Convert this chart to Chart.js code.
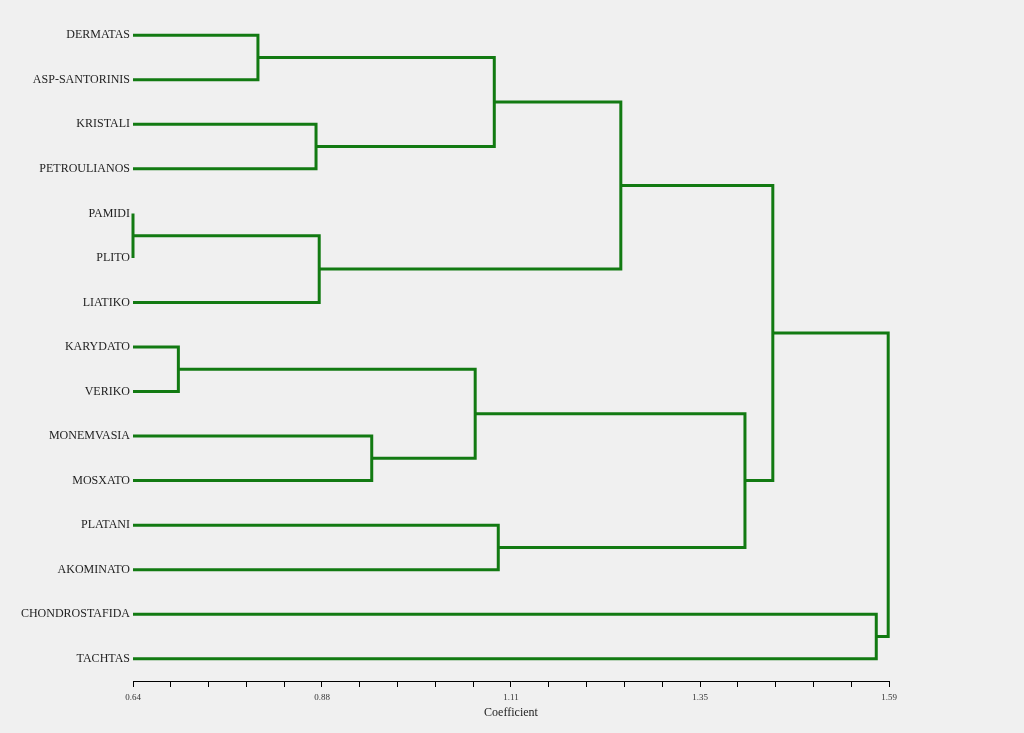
<!DOCTYPE html>
<html>
<head>
<meta charset="utf-8">
<script src="https://cdn.jsdelivr.net/npm/chart.js@4"></script>
<style>
  html, body { margin: 0; padding: 0; background: #f0f0f0; }
  #wrap { width: 1024px; height: 733px; }
</style>
</head>
<body>
<div id="wrap"><canvas id="chart" width="1024" height="733"></canvas></div>
<script>
// leaves, top to bottom
const leaves = ['DERMATAS', 'ASP-SANTORINIS', 'KRISTALI', 'PETROULIANOS', 'PAMIDI', 'PLITO', 'LIATIKO',
  'KARYDATO', 'VERIKO', 'MONEMVASIA', 'MOSXATO', 'PLATANI', 'AKOMINATO', 'CHONDROSTAFIDA', 'TACHTAS'];

// merges (ids < 15 are leaves, 15+ are earlier merges)
const mergeLeft   = [4, 7, 0, 2, 15, 9, 16, 17, 11, 22, 21, 24, 13, 26];
const mergeRight  = [5, 8, 1, 3, 6, 10, 20, 18, 12, 19, 23, 25, 14, 27];
const mergeHeight = [0.640, 0.697, 0.797, 0.870, 0.874, 0.940, 1.070, 1.094, 1.099, 1.253, 1.409, 1.444, 1.574, 1.589];

// axis
const xMin = 0.64, xMax = 1.59;
const xMajorTicks  = [0.64, 0.8775, 1.115, 1.3525, 1.59];
const xMajorLabels = ['0.64', '0.88', '1.11', '1.35', '1.59'];
const minorPerMajor = 5;

const green = '#127a12';
const n = leaves.length;

// node positions
let nodeX = [], nodeY = [];
for (let i = 0; i < n; i++) { nodeX[i] = xMin; nodeY[i] = i; }
let datasets = [];
mergeHeight.forEach((h, k) => {
  let a = mergeLeft[k], b = mergeRight[k];
  nodeX[n + k] = h;
  nodeY[n + k] = (nodeY[a] + nodeY[b]) / 2;
  datasets.push({
    data: [
      {x: nodeX[a], y: nodeY[a]},
      {x: h, y: nodeY[a]},
      {x: h, y: nodeY[b]},
      {x: nodeX[b], y: nodeY[b]}
    ],
    showLine: true,
    borderColor: green,
    borderWidth: 3,
    pointRadius: 0,
    borderJoinStyle: 'miter',
    fill: false,
    clip: false
  });
});

// all tick values (majors plus minors between them)
let xTicks = [];
for (let m = 0; m < xMajorTicks.length - 1; m++) {
  let step = (xMajorTicks[m + 1] - xMajorTicks[m]) / minorPerMajor;
  for (let j = 0; j < minorPerMajor; j++) xTicks.push(xMajorTicks[m] + j * step);
}
xTicks.push(xMajorTicks[xMajorTicks.length - 1]);

new Chart(document.getElementById('chart'), {
  type: 'scatter',
  data: { datasets },
  options: {
    responsive: false,
    animation: false,
    layout: { padding: { top: 13, right: 135, left: 0, bottom: 0 } },
    plugins: { legend: { display: false }, tooltip: { enabled: false } },
    scales: {
      x: {
        type: 'linear',
        min: xMin, max: xMax,
        afterBuildTicks: s => { s.ticks = xTicks.map(v => ({ value: v })); },
        afterFit: s => { s.height = 52; },
        grid: { drawOnChartArea: false, drawTicks: true, tickLength: 6, tickColor: '#000' },
        border: { display: true, color: '#000', width: 1 },
        ticks: {
          autoSkip: false, maxRotation: 0, padding: 5,
          color: '#333',
          font: { family: 'Liberation Serif', size: 9 },
          callback: (v, i) => {
            let m = i / minorPerMajor;
            return Number.isInteger(m) ? xMajorLabels[m] : '';
          }
        },
        title: {
          display: true, text: 'Coefficient', color: '#222',
          font: { family: 'Liberation Serif', size: 12 },
          padding: { top: 0, bottom: 13 }
        }
      },
      y: {
        type: 'linear',
        reverse: true,
        min: -0.5, max: n - 0.5,
        afterBuildTicks: s => { s.ticks = leaves.map((l, i) => ({ value: i })); },
        afterFit: s => { s.width = 133; },
        grid: { display: false, drawTicks: false },
        border: { display: false },
        ticks: {
          autoSkip: false, padding: 3,
          color: '#222',
          font: { family: 'Liberation Serif', size: 12 },
          callback: v => leaves[v]
        }
      }
    }
  }
});
</script>
</body>
</html>
